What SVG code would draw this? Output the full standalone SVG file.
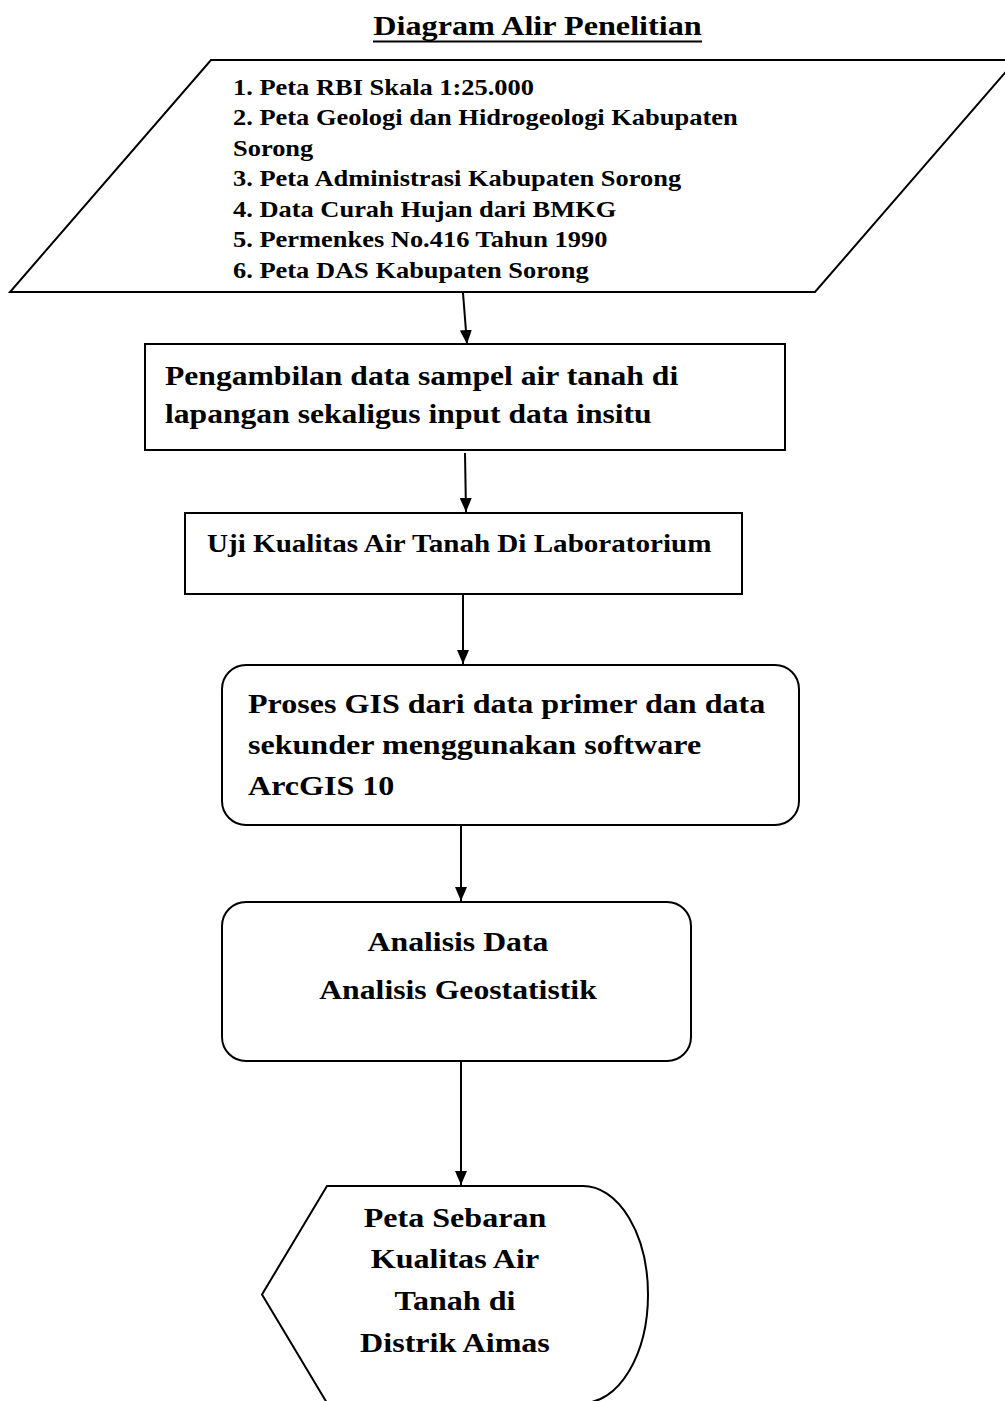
<svg xmlns="http://www.w3.org/2000/svg" width="1005" height="1401" viewBox="0 0 1005 1401">
<style>
text{font-family:"Liberation Serif","Times New Roman",serif;font-weight:bold;fill:#000}
.s{fill:#fff;stroke:#000;stroke-width:2}
.c{stroke:#000;stroke-width:2;fill:none}
</style>
<defs>
<marker id="ah" viewBox="0 0 14 12" refX="14" refY="6" markerWidth="14" markerHeight="12" markerUnits="userSpaceOnUse" orient="auto">
<path d="M0,0 L14,6 L0,12 Z" fill="#000"/>
</marker>
<clipPath id="clip1"><rect x="0" y="60" width="1005" height="224"/></clipPath>
</defs>
<rect width="1005" height="1401" fill="#fff"/>
<g id="title">
<text x="537.5" y="35" text-anchor="middle" font-size="28" transform="matrix(1.15,0,0,1,-80.6,0)">Diagram Alir Penelitian</text>
<line x1="373" y1="41.5" x2="702" y2="41.5" stroke="#000" stroke-width="2.2"/>
</g>
<g id="n1">
<polygon class="s" points="211,60 1016,60 815,292 10,292"/>
<text font-size="23" clip-path="url(#clip1)" transform="matrix(1.15,0,0,1,-34.95,0)"><tspan x="233" y="95">1. Peta RBI Skala 1:25.000</tspan><tspan x="233" y="125.5">2. Peta Geologi dan Hidrogeologi Kabupaten</tspan><tspan x="233" y="156">Sorong</tspan><tspan x="233" y="186.5">3. Peta Administrasi Kabupaten Sorong</tspan><tspan x="233" y="217">4. Data Curah Hujan dari BMKG</tspan><tspan x="233" y="247.5">5. Permenkes No.416 Tahun 1990</tspan><tspan x="233" y="278">6. Peta DAS Kabupaten Sorong</tspan></text>
</g>
<g id="n2">
<rect class="s" x="145" y="344" width="640" height="106" stroke-width="2.5"/>
<text font-size="27.5" transform="matrix(1.15,0,0,1,-24.75,0)"><tspan x="165" y="385">Pengambilan data sampel air tanah di</tspan><tspan x="165" y="423">lapangan sekaligus input data insitu</tspan></text>
</g>
<g id="n3">
<rect class="s" x="185" y="513" width="557" height="81"/>
<text font-size="25.3" x="207" y="552" transform="matrix(1.15,0,0,1,-31.05,0)">Uji Kualitas Air Tanah Di Laboratorium</text>
</g>
<g id="n4">
<rect class="s" x="222" y="665" width="577" height="160" rx="24"/>
<text font-size="27.9" transform="matrix(1.15,0,0,1,-37.2,0)"><tspan x="248" y="713">Proses GIS dari data primer dan data</tspan><tspan x="248" y="754">sekunder menggunakan software</tspan><tspan x="248" y="795">ArcGIS 10</tspan></text>
</g>
<g id="n5">
<rect class="s" x="222" y="902" width="469" height="159" rx="24"/>
<text font-size="27.6" text-anchor="middle" transform="matrix(1.15,0,0,1,-68.7,0)"><tspan x="458" y="951">Analisis Data</tspan><tspan x="458" y="999">Analisis Geostatistik</tspan></text>
</g>
<g id="n6">
<path class="s" d="M327,1186 L583,1186 A65,108.5 0 0 1 583,1403 L327,1403 L262,1294.5 Z"/>
<text font-size="27.9" text-anchor="middle" transform="matrix(1.15,0,0,1,-68.25,0)"><tspan x="455" y="1227">Peta Sebaran</tspan><tspan x="455" y="1268">Kualitas Air</tspan><tspan x="455" y="1310">Tanah di</tspan><tspan x="455" y="1352">Distrik Aimas</tspan></text>
</g>
<g id="connectors">
<line class="c" x1="463" y1="293" x2="467" y2="344" marker-end="url(#ah)"/>
<line class="c" x1="465" y1="453" x2="466" y2="512" marker-end="url(#ah)"/>
<line class="c" x1="463" y1="595" x2="463" y2="664" marker-end="url(#ah)"/>
<line class="c" x1="461" y1="826" x2="461" y2="901" marker-end="url(#ah)"/>
<line class="c" x1="461" y1="1062" x2="461" y2="1185" marker-end="url(#ah)"/>
</g>
</svg>
